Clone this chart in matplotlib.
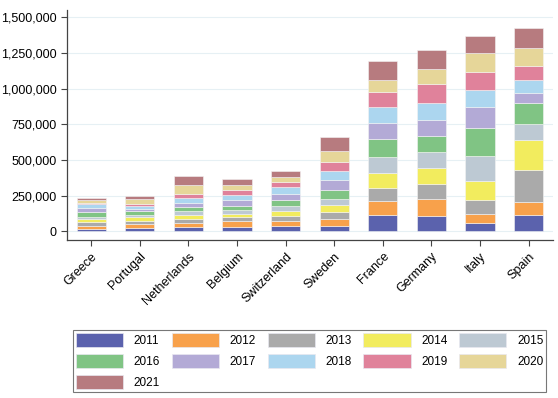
import matplotlib.pyplot as plt
import numpy as np
from matplotlib.patches import Patch

plt.rcParams['font.family'] = ['Liberation Sans', 'DejaVu Sans']

countries = ['Greece', 'Portugal', 'Netherlands', 'Belgium', 'Switzerland',
             'Sweden', 'France', 'Germany', 'Italy', 'Spain']
years = ['2011', '2012', '2013', '2014', '2015', '2016',
         '2017', '2018', '2019', '2020', '2021']

# values per year (bottom to top of each stack), one entry per country
v2011 = [16000, 23000, 30000, 30000, 35000, 35000, 112000, 107000, 56000, 112000]
v2012 = [24000, 28000, 28000, 40000, 35000, 51000, 98000, 117000, 65000, 93000]
v2013 = [26000, 23000, 28000, 33000, 35000, 49000, 96000, 110000, 98000, 225000]
v2014 = [20000, 23000, 30000, 21000, 35000, 47000, 105000, 112000, 134000, 208000]
v2015 = [16000, 19000, 28000, 23000, 40000, 47000, 112000, 108000, 175000, 112000]
v2016 = [30000, 23000, 26000, 33000, 42000, 58000, 122000, 114000, 198000, 151000]
v2017 = [30000, 16000, 30000, 37000, 42000, 70000, 112000, 112000, 147000, 66000]
v2018 = [26000, 23000, 30000, 35000, 44000, 68000, 112000, 117000, 117000, 91000]
v2019 = [13000, 14000, 33000, 40000, 40000, 61000, 105000, 133000, 127000, 101000]
v2020 = [20000, 35000, 58000, 35000, 33000, 79000, 86000, 108000, 131000, 124000]
v2021 = [14000, 23000, 63000, 40000, 44000, 93000, 134000, 133000, 121000, 142000]

series = [v2011, v2012, v2013, v2014, v2015, v2016, v2017, v2018, v2019, v2020, v2021]
colors = ['#5b62ad', '#f8a14b', '#aaaaaa', '#f2ec5e', '#bdc9d3', '#80c484',
          '#b3aad6', '#acd6ef', '#e0829b', '#e6d699', '#b77b7f']

fig = plt.figure(figsize=(5.58, 3.98), dpi=100)
ax = fig.add_axes([0.12, 0.397, 0.871, 0.578])

x = np.arange(len(countries))
bottom = np.zeros(len(countries))
handles = []
for yr, vals, c in zip(years, series, colors):
    ax.bar(x, vals, width=0.6, bottom=bottom, color=c, edgecolor='#f4f4f4', linewidth=0.4)
    bottom += np.array(vals)
    handles.append(Patch(facecolor=c, edgecolor='#e8e8f0', linewidth=0.5, label=yr))

ax.set_xlim(-0.5, 9.5)
ax.set_ylim(-61000, 1551000)
ax.set_yticks([0, 250000, 500000, 750000, 1000000, 1250000, 1500000])
ax.yaxis.set_major_formatter(plt.FuncFormatter(lambda v, p: '{:,.0f}'.format(v)))
ax.grid(axis='y', color='#e6f0f4', linewidth=0.8)
ax.set_axisbelow(True)
ax.set_xticks(x)
ax.set_xticklabels(countries, rotation=45, ha='right', rotation_mode='anchor')
ax.tick_params(labelsize=9, color='#444444', length=4, width=0.8)
for s in ['top', 'right']:
    ax.spines[s].set_visible(False)
for s in ['left', 'bottom']:
    ax.spines[s].set_color('#444444')
    ax.spines[s].set_linewidth(0.9)

# legend is filled column by column, so reorder to read row by row
order = [0, 5, 10, 1, 6, 2, 7, 3, 8, 4, 9]
leg = fig.legend([handles[i] for i in order], [years[i] for i in order],
                 ncol=5, loc='lower left', bbox_to_anchor=(0.131, 0.015, 0.848, 0.169),
                 mode='expand', fontsize=8.5, handlelength=4.0, handleheight=1.5,
                 handletextpad=0.9, columnspacing=1.0, labelspacing=0.55,
                 fancybox=False, edgecolor='#555555', borderpad=0.25, borderaxespad=0)
leg.get_frame().set_linewidth(0.8)

fig.savefig('out.png', dpi=100)
